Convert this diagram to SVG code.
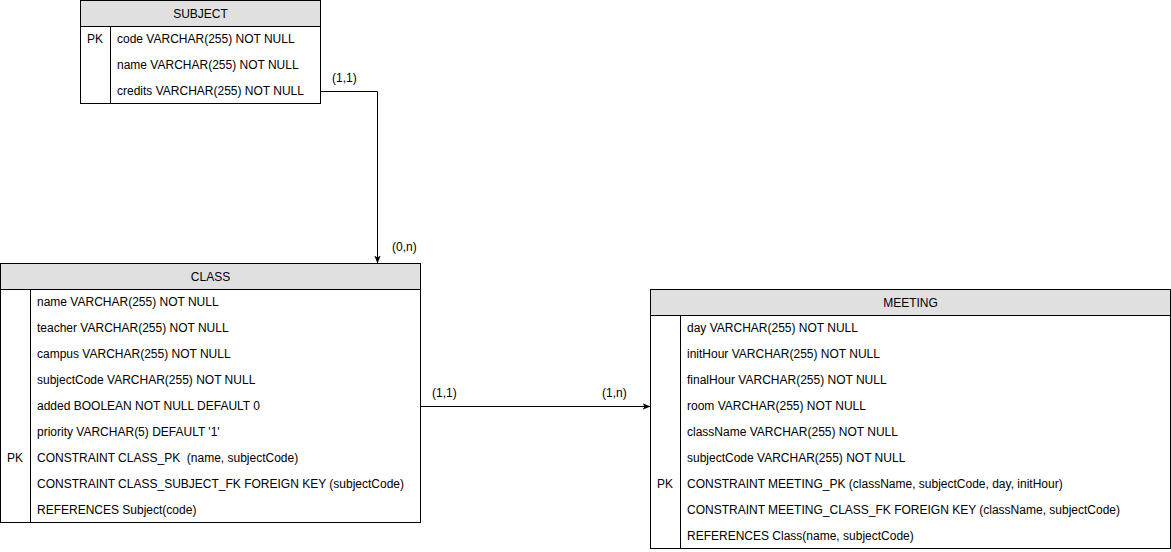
<svg xmlns="http://www.w3.org/2000/svg" width="1171" height="552" viewBox="0 0 1171 552">
<style>
text{font-family:"Liberation Sans",Arial,sans-serif;font-size:12px;fill:#000}
.hd{text-anchor:middle}
.box{fill:#fff;stroke:#000;stroke-width:1}
.head{fill:#e0e0e0;stroke:#000;stroke-width:1}
.ln{fill:none;stroke:#000;stroke-width:1}
</style>
<defs>
<marker id="arr" viewBox="0 0 10 10" refX="10" refY="5" markerWidth="8" markerHeight="8" markerUnits="userSpaceOnUse" orient="auto">
<path d="M0,1 L10,5 L0,9 L2.5,5 Z" fill="#000"/>
</marker>
</defs>
<rect width="1171" height="552" fill="#fff"/>
<g id="connectors">
<path class="ln" d="M320.5,91.5 H377.5 V263.5" marker-end="url(#arr)"/>
<text x="332" y="82">(1,1)</text>
<text x="392" y="251">(0,n)</text>
<path class="ln" d="M420.5,406.5 H650.5" marker-end="url(#arr)"/>
<text x="432" y="397">(1,1)</text>
<text x="602" y="397">(1,n)</text>
</g>
<g id="subject">
<rect class="box" x="80.5" y="0.5" width="240" height="103"/>
<rect class="head" x="80.5" y="0.5" width="240" height="26"/>
<line class="ln" x1="110.5" y1="26.5" x2="110.5" y2="103.5"/>
<text class="hd" x="200.5" y="18">SUBJECT</text>
<text x="87" y="43">PK</text>
<text x="117" y="43">code VARCHAR(255) NOT NULL</text>
<text x="117" y="69">name VARCHAR(255) NOT NULL</text>
<text x="117" y="95">credits VARCHAR(255) NOT NULL</text>
</g>
<g id="class">
<rect class="box" x="0.5" y="263.5" width="420" height="259"/>
<rect class="head" x="0.5" y="263.5" width="420" height="26"/>
<line class="ln" x1="30.5" y1="289.5" x2="30.5" y2="522.5"/>
<text class="hd" x="210.5" y="281">CLASS</text>
<text x="37" y="306">name VARCHAR(255) NOT NULL</text>
<text x="37" y="332">teacher VARCHAR(255) NOT NULL</text>
<text x="37" y="358">campus VARCHAR(255) NOT NULL</text>
<text x="37" y="384">subjectCode VARCHAR(255) NOT NULL</text>
<text x="37" y="410">added BOOLEAN NOT NULL DEFAULT 0</text>
<text x="37" y="436">priority VARCHAR(5) DEFAULT '1'</text>
<text x="7" y="462">PK</text>
<text x="37" y="462" xml:space="preserve">CONSTRAINT CLASS_PK  (name, subjectCode)</text>
<text x="37" y="488">CONSTRAINT CLASS_SUBJECT_FK FOREIGN KEY (subjectCode)</text>
<text x="37" y="514">REFERENCES Subject(code)</text>
</g>
<g id="meeting">
<rect class="box" x="650.5" y="289.5" width="520" height="259"/>
<rect class="head" x="650.5" y="289.5" width="520" height="26"/>
<line class="ln" x1="680.5" y1="315.5" x2="680.5" y2="548.5"/>
<text class="hd" x="910.5" y="307">MEETING</text>
<text x="687" y="332">day VARCHAR(255) NOT NULL</text>
<text x="687" y="358">initHour VARCHAR(255) NOT NULL</text>
<text x="687" y="384">finalHour VARCHAR(255) NOT NULL</text>
<text x="687" y="410">room VARCHAR(255) NOT NULL</text>
<text x="687" y="436">className VARCHAR(255) NOT NULL</text>
<text x="687" y="462">subjectCode VARCHAR(255) NOT NULL</text>
<text x="657" y="488">PK</text>
<text x="687" y="488">CONSTRAINT MEETING_PK (className, subjectCode, day, initHour)</text>
<text x="687" y="514">CONSTRAINT MEETING_CLASS_FK FOREIGN KEY (className, subjectCode)</text>
<text x="687" y="540">REFERENCES Class(name, subjectCode)</text>
</g>
</svg>
